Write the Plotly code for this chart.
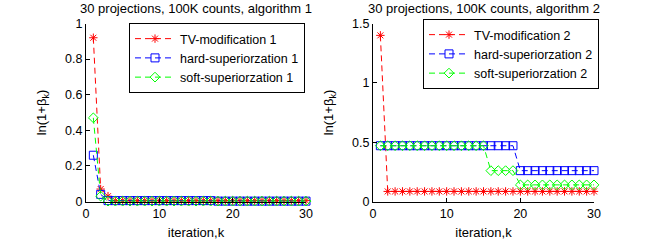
import plotly.graph_objects as go

iterations = list(range(1, 31))

tv1 = [0.92, 0.07, 0.03] + [0.005] * 27
hard1 = [0.26, 0.04] + [0.005] * 15 + [0.002] * 13
soft1 = [0.47, 0.03] + [0.002] * 28

tv2 = [1.40] + [0.085] * 29
hard2 = [0.47] * 19 + [0.26] * 11
soft2 = [0.47] * 15 + [0.26] * 4 + [0.14] * 11

names1 = ["TV-modification 1", "hard-superiorzation 1", "soft-superiorzation 1"]
names2 = ["TV-modification 2", "hard-superiorzation 2", "soft-superiorzation 2"]
titles = ["30 projections, 100K counts, algorithm 1", "30 projections, 100K counts, algorithm 2"]

# the page body margin is removed (post_script below), so figure pixels = window pixels
W, H = 656, 240
def sx(x):
    return x / W
def sy(y):
    return 1 - y / H

FONT = "Liberation Sans, Arial, sans-serif"
FS = 12.5
colors = ["#ff0000", "#0000ff", "#00ff00"]
symbols = ["asterisk-open", "square-open", "diamond-open"]
sizes = [7, 8, 7.5]
DASH = "6px,4px"

fig = go.Figure()

def add_series(ys, names, xa, ya, legend):
    for y, n, c, s, sz in zip(ys, names, colors, symbols, sizes):
        fig.add_trace(go.Scatter(
            x=iterations, y=y, name=n, mode="lines+markers",
            line=dict(color=c, width=1, dash=DASH),
            marker=dict(symbol=s, size=sz, color=c, line=dict(color=c, width=1)),
            xaxis=xa, yaxis=ya, legend=legend, cliponaxis=False,
        ))

add_series([tv1, hard1, soft1], names1, "x", "y", "legend")
add_series([tv2, hard2, soft2], names2, "x2", "y2", "legend2")

ydom = [sy(201.5), sy(23.5)]
axis_common = dict(
    showline=True, linecolor="black", linewidth=1, mirror=False, automargin=False,
    ticks="inside", ticklen=4, tickcolor="black", showgrid=False, zeroline=False,
    tickfont=dict(family=FONT, size=FS, color="black"),
)
ytitle = dict(text="ln(1+β<sub>k</sub>)", font=dict(family=FONT, size=13, color="black"))
xtitle = dict(text="iteration,k", font=dict(family=FONT, size=13, color="black"))

legend_common = dict(
    bgcolor="white", bordercolor="black", borderwidth=1,
    font=dict(family=FONT, size=FS, color="black"),
    xanchor="left", yanchor="top", itemwidth=40, tracegroupgap=0,
)

fig.update_layout(
    width=W, height=H,
    margin=dict(l=0, r=0, t=0, b=0),
    paper_bgcolor="white", plot_bgcolor="white",
    xaxis=dict(domain=[sx(86), sx(306)], range=[0, 30], tickvals=[0, 10, 20, 30],
               anchor="y", title=xtitle, **axis_common),
    yaxis=dict(domain=ydom, range=[0, 1], tickvals=[0, 0.2, 0.4, 0.6, 0.8, 1],
               ticktext=["0", "0.2", "0.4", "0.6", "0.8", "1"],
               anchor="x", title=ytitle, **axis_common),
    xaxis2=dict(domain=[sx(373), sx(594)], range=[0, 30], tickvals=[0, 10, 20, 30],
                anchor="y2", title=xtitle, **axis_common),
    yaxis2=dict(domain=ydom, range=[0, 1.5], tickvals=[0, 0.5, 1, 1.5],
                ticktext=["0", "0.5", "1", "1.5"],
                anchor="x2", title=ytitle, **axis_common),
    legend=dict(x=sx(129), y=sy(23), **legend_common),
    legend2=dict(x=sx(423), y=sy(19), **legend_common),
    showlegend=True,
    annotations=[
        dict(text=titles[0], x=sx((86 + 306) / 2), y=sy(8.5), xref="paper", yref="paper",
             showarrow=False, xanchor="center", yanchor="middle",
             font=dict(family=FONT, size=13, color="black")),
        dict(text=titles[1], x=sx((373 + 594) / 2), y=sy(8.5), xref="paper", yref="paper",
             showarrow=False, xanchor="center", yanchor="middle",
             font=dict(family=FONT, size=13, color="black")),
    ],
)

fig.write_html(
    "out.html",
    config={"displayModeBar": False},
    post_script="document.body.style.margin='0';document.body.style.overflow='hidden';",
)
